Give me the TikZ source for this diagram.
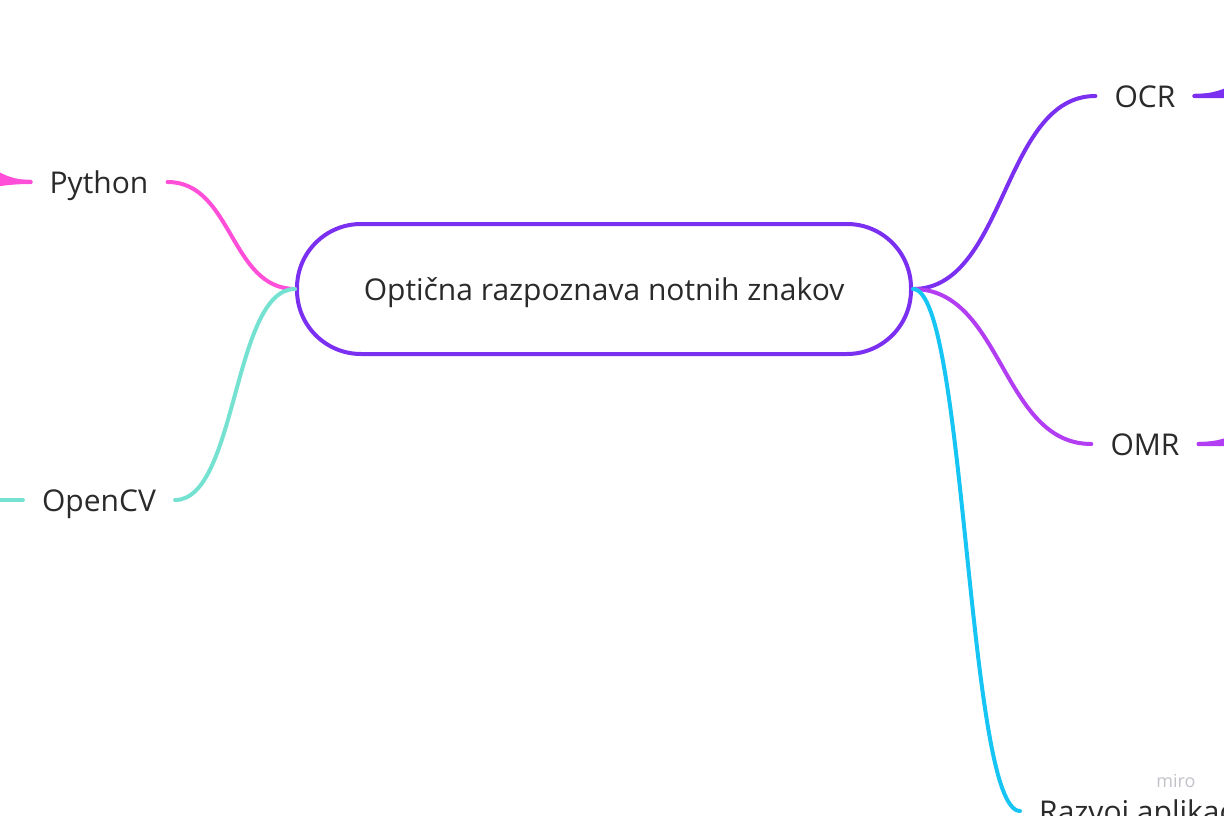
\documentclass[tikz,border=0pt]{standalone}
\usepackage{fontspec}
\setmainfont{Open Sans}
\usepackage{xcolor}
\usetikzlibrary{positioning}
\definecolor{rootViolet}{HTML}{7B2FF0}
\definecolor{omrPurple}{HTML}{B23DF2}
\definecolor{pyPink}{HTML}{FF4FD8}
\definecolor{cvTeal}{HTML}{75E2D1}
\definecolor{appCyan}{HTML}{17C5F5}
\definecolor{inkGray}{HTML}{2A2A2A}
\definecolor{markGray}{HTML}{C2C2CA}

\begin{document}
\begin{tikzpicture}[
  x=1pt, y=-1pt,
  font=\fontsize{30}{36}\selectfont,
  topic/.style={text=inkGray,inner xsep=19pt,inner ysep=0pt,text height=28pt,text depth=6pt},
  root/.style={draw=rootViolet,line width=4pt,rounded corners=64pt,fill=white,
    minimum width=614pt,minimum height=130pt,text=inkGray,text height=28pt,text depth=6pt},
  branch/.style={line width=4pt,line cap=round}]
  \useasboundingbox (0,0) rectangle (1224,816);
  \clip (0,0) rectangle (1224,816);
  % topics
  \node[root] (omr) at (604,289) {Optična razpoznava notnih znakov};
  \node[topic] (python) at (99,182) {Python};
  \node[topic] (opencv) at (99,500) {OpenCV};
  \node[topic] (ocr) at (1145,96) {OCR};
  \node[topic] (omrt) at (1145,444) {OMR};
  \node[topic,anchor=west] (app) at (1020,811) {Razvoj aplikacije};
  \node[text=markGray,font=\fontsize{18}{20}\selectfont] (wm) at (1176,781) {miro};
  % children that lie outside the frame
  \coordinate (pyA) at (-150,20);
  \coordinate (pyB) at (-150,90);
  \coordinate (pyC) at (-150,150);
  \coordinate (pyD) at (-150,230);
  \coordinate (cvA) at (-150,500);
  \coordinate (ocrA) at (1400,-80);
  \coordinate (ocrB) at (1400,0);
  \coordinate (ocrC) at (1400,60);
  \coordinate (ocrD) at (1400,98);
  \coordinate (omrA) at (1400,300);
  \coordinate (omrB) at (1400,380);
  \coordinate (omrC) at (1400,446);
  % branches
  \draw[branch,pyPink] (omr.west) .. controls +(-65,0) and +(65,0) .. (python.east);
  \draw[branch,cvTeal] (omr.west) .. controls +(-62,0) and +(62,0) .. (opencv.east);
  \draw[branch,rootViolet] (omr.east) .. controls +(93,0) and +(-93,0) .. (ocr.west);
  \draw[branch,omrPurple] (omr.east) .. controls +(90,0) and +(-90,0) .. (omrt.west);
  \draw[branch,appCyan] (omr.east) .. controls +(53,0) and +(-53,0) .. (app.west);
  \foreach \c in {pyA,pyB,pyC,pyD}
    \draw[branch,pyPink] (python.west) .. controls +(-90,0) and +(90,0) .. (\c);
  \draw[branch,cvTeal] (opencv.west) -- (cvA);
  \foreach \c in {ocrA,ocrB,ocrC,ocrD}
    \draw[branch,rootViolet] (ocr.east) .. controls +(107,0) and +(-107,0) .. (\c);
  \foreach \c in {omrA,omrB,omrC}
    \draw[branch,omrPurple] (omrt.east) .. controls +(100,0) and +(-100,0) .. (\c);
\end{tikzpicture}
\end{document}
